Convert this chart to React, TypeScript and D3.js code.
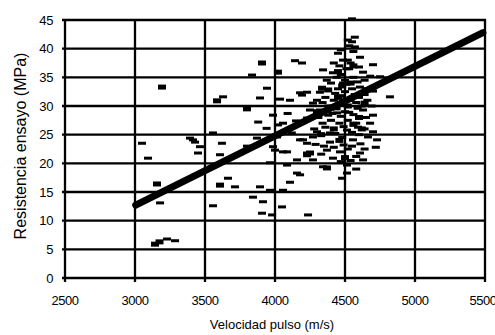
import React, { useEffect } from 'react';
import * as d3 from 'd3';

// ejes
const xTicks = [2500, 3000, 3500, 4000, 4500, 5000, 5500];
const yTicks = [0, 5, 10, 15, 20, 25, 30, 35, 40, 45];

// recta de regresión (inicio y fin)
const recta: [number, number][] = [[3005, 12.7], [5485, 42.8]];

// ensayos: velocidad (m/s), resistencia (MPa) - trazos finos
const puntos: [number, number][] = [
  [3050, 23.5], [3093, 20.9], [3179, 13.1], [3229, 6.8], [3286, 6.5],
  [3429, 23.7], [3450, 21.8], [3557, 25.3], [3557, 12.6], [3607, 21.5],
  [3664, 17.4], [3714, 15.9], [3843, 14.1], [3893, 15.9], [3914, 13.3],
  [3907, 11.3], [3979, 11.0], [3964, 15.3], [4050, 12.4], [4057, 15.3],
  [4107, 16.7], [4179, 18.0], [4236, 11.0], [4157, 20.6], [4343, 19.4],
  [3621, 23.5], [3800, 23.0], [4086, 19.7], [4000, 22.3], [3964, 20.1],
  [3836, 35.4], [3943, 33.1], [3893, 31.4], [3629, 31.6], [3986, 28.4],
  [4036, 31.2], [3393, 24.4], [4143, 37.9], [4193, 37.5], [4343, 36.3],
  [4107, 31.0], [4193, 31.9], [4229, 32.4], [4271, 30.5], [4250, 29.3],
  [4021, 26.7], [3414, 24.1], [3464, 22.9], [3871, 24.4], [3986, 22.9],
  [4086, 22.0], [4014, 24.6], [4200, 24.1], [4550, 45.2], [4550, 41.2],
  [4571, 40.3], [4450, 39.2], [4486, 38.0], [4607, 38.5], [4700, 37.2],
  [4414, 35.8], [4629, 35.9], [4750, 35.1], [4486, 34.0], [4607, 33.3],
  [4821, 31.6], [4179, 32.3], [4321, 32.4], [4057, 27.0], [4229, 27.9],
  [4321, 29.3], [4443, 28.8], [4629, 29.3], [4700, 28.4], [4679, 27.0],
  [4593, 26.3], [4514, 25.8], [4393, 25.3], [4271, 24.6], [4179, 24.1],
  [4229, 23.5], [4393, 23.7], [4557, 24.1], [4664, 24.6], [4729, 24.1],
  [4229, 21.8], [4371, 22.3], [4464, 22.0], [4607, 21.8], [4057, 22.0],
  [4271, 20.6], [4414, 20.9], [4629, 20.6], [4514, 19.7], [4157, 18.3],
  [4514, 18.3], [4479, 17.4], [4400, 34.0], [4450, 33.0], [4500, 32.5],
  [4550, 33.0], [4420, 31.0], [4480, 30.5], [4540, 31.0], [4600, 31.5],
  [4380, 30.0], [4440, 29.5], [4500, 29.0], [4560, 28.5], [4620, 30.0],
  [4460, 27.0], [4520, 27.5], [4580, 27.0], [4400, 27.5], [4340, 27.0],
  [4360, 31.5], [4470, 35.5], [4530, 36.5], [4560, 35.0], [4520, 38.0],
  [4500, 34.5], [4650, 33.0], [4660, 31.0], [4600, 25.0], [4640, 26.0],
  [4700, 25.5], [4550, 23.0], [4480, 24.5], [4520, 22.5], [4580, 19.0],
  [4640, 22.5], [4540, 20.5], [4300, 25.5], [4310, 28.0], [4280, 26.0],
  [4460, 37.0], [4540, 37.5], [4570, 42.0], [4510, 36.5], [4560, 39.5],
  [4530, 40.5], [4600, 36.8], [4420, 37.5], [4370, 34.5], [4640, 34.5],
  [4430, 32.2], [4470, 31.8], [4510, 31.3], [4570, 32.0], [4590, 34.2],
  [4410, 28.7], [4470, 28.2], [4530, 28.9], [4590, 29.6], [4650, 28.0],
  [4360, 26.3], [4430, 25.2], [4490, 26.4], [4550, 25.4], [4610, 23.4],
  [4350, 23.0], [4420, 22.8], [4490, 23.2], [4580, 21.2], [4470, 20.3],
  [4440, 35.0], [4510, 33.8], [4580, 30.6], [4640, 32.0], [4690, 30.0],
  [4380, 28.4], [4340, 30.6], [4300, 31.0], [4290, 23.3], [4330, 21.6],
  [4150, 27.4], [4120, 25.3], [4090, 28.7], [3940, 26.1], [3880, 27.2],
  [4700, 32.6], [4720, 22.8], [4680, 35.2], [4470, 39.8], [4520, 41.5],
];

// bloques más gruesos (ensayos superpuestos)
const puntosGruesos: [number, number][] = [
  [3193, 33.3], [3157, 16.4], [3143, 5.9], [3175, 6.3], [3607, 16.2],
  [4229, 21.5], [3907, 37.5], [4021, 35.9], [3586, 30.9], [3800, 29.5],
  [4336, 33.1], [4250, 21.8], [4371, 19.2], [4450, 31.5], [4520, 30.0],
  [4420, 26.0], [4560, 26.8], [4480, 33.5], [4600, 28.0], [4410, 29.8],
  [4540, 34.0], [4460, 24.0], [4380, 32.8], [4620, 26.0], [4500, 21.0],
  [4330, 25.0], [4560, 37.0], [4300, 29.0], [4640, 30.5], [4450, 36.0],
];

const W = 495;
const H = 335;
const margin = { top: 20, right: 10, bottom: 57, left: 65 };
const font = "'Liberation Sans', Arial, sans-serif";

export default function App() {
  useEffect(() => {
    document.body.style.margin = '0';
  }, []);

  const x = d3.scaleLinear().domain([2500, 5500]).range([margin.left, W - margin.right]);
  const y = d3.scaleLinear().domain([0, 45]).range([H - margin.bottom, margin.top]);
  const linea = d3.line<[number, number]>().x(d => x(d[0])).y(d => y(d[1]));

  const x0 = x(2500);
  const x1 = x(5500);
  const y0 = y(0);
  const y1 = y(45);

  return (
    <svg width={W} height={H} style={{ display: 'block', background: '#fff' }}>
      {/* rejilla */}
      {yTicks.map(t => (
        <line key={'h' + t} x1={x0 - 3} x2={x1 + 1} y1={y(t)} y2={y(t)} stroke="#000" strokeWidth={2.3} />
      ))}
      {xTicks.map(t => (
        <line key={'v' + t} x1={x(t)} x2={x(t)} y1={y1 - 1} y2={y0 + 4} stroke="#000" strokeWidth={2.3} />
      ))}

      {/* ensayos */}
      {puntos.map((d, i) => (
        <rect key={'p' + i} x={x(d[0]) - 4} y={y(d[1]) - 1.5} width={8} height={3} fill="#000" />
      ))}
      {puntosGruesos.map((d, i) => (
        <rect key={'g' + i} x={x(d[0]) - 4} y={y(d[1]) - 2.5} width={8} height={5} fill="#000" />
      ))}

      {/* regresión */}
      <path d={linea(recta) || ''} stroke="#000" strokeWidth={7} fill="none" strokeLinecap="round" />

      {/* etiquetas */}
      {yTicks.map(t => (
        <text key={'yl' + t} x={x0 - 12} y={y(t)} dy="0.35em" textAnchor="end"
          fontFamily={font} fontSize={13} letterSpacing={-0.4} fill="#000">{t}</text>
      ))}
      {xTicks.map(t => (
        <text key={'xl' + t} x={t === 5500 ? x(t) - 2 : x(t)} y={y0 + 27} textAnchor="middle"
          fontFamily={font} fontSize={13} letterSpacing={-0.5} fill="#000">{t}</text>
      ))}
      <text x={272} y={329} textAnchor="middle" fontFamily={font} fontSize={13} fill="#000">
        Velocidad pulso (m/s)
      </text>
      <text transform={`translate(26,146) rotate(-90)`} textAnchor="middle"
        fontFamily={font} fontSize={16} fill="#000">
        Resistencia ensayo (MPa)
      </text>
    </svg>
  );
}
